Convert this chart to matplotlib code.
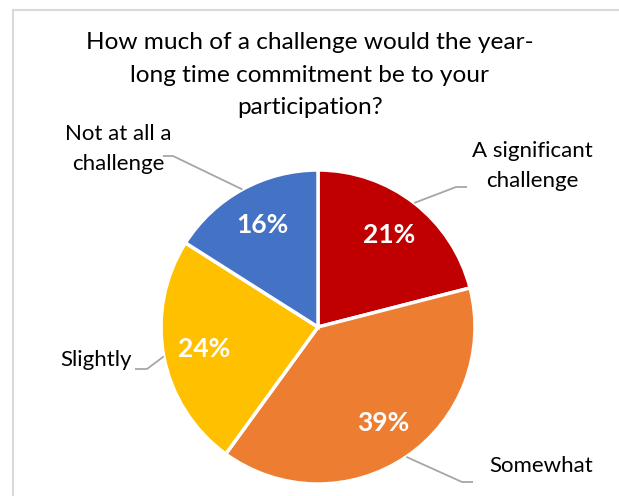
import numpy as np
import matplotlib.pyplot as plt
from matplotlib.lines import Line2D

plt.rcParams['font.family'] = ['Lato', 'DejaVu Sans']

title = "How much of a challenge would the year-\nlong time commitment be to your\nparticipation?"
categories = ["A significant\nchallenge", "Somewhat", "Slightly", "Not at all a\nchallenge"]
shares = [21, 39, 24, 16]
colors = ["#C00000", "#ED7D31", "#FFC000", "#4472C4"]

# label placement (pixels, y measured from top): text centre, elbow, end of leader
label_pos = [(532, 166), (541, 466), (96, 360), (118, 149)]
elbow_pos = [(456, 187), (462, 482), (147, 369), (173, 156)]
line_end = [(467, 187), (473, 482), (135, 369), (163, 156)]

W, H = 619, 496
fig = plt.figure(figsize=(W / 100, H / 100), dpi=100)
ax = fig.add_axes([0, 0, 1, 1])
ax.set_xlim(0, W)
ax.set_ylim(0, H)
ax.set_aspect('equal')
ax.axis('off')

cx, cy, r = 318, H - 327, 157

wedges, texts, autotexts = ax.pie(
    shares, colors=colors, startangle=90, counterclock=False,
    center=(cx, cy), radius=r, autopct='%1.0f%%', pctdistance=0.74,
    wedgeprops=dict(edgecolor='white', linewidth=2.5),
    textprops=dict(color='white', fontsize=19, fontweight='bold'))
ax.set_xlim(0, W)
ax.set_ylim(0, H)

# leader lines start on the rim at each wedge's middle angle
for w, cat, tp, ep, le in zip(wedges, categories, label_pos, elbow_pos, line_end):
    mid = np.deg2rad((w.theta1 + w.theta2) / 2)
    sx, sy = cx + r * np.cos(mid), cy + r * np.sin(mid)
    ax.plot([sx, ep[0], le[0]], [sy, H - ep[1], H - le[1]],
            color='#A6A6A6', linewidth=1.3, solid_capstyle='butt')
    ax.text(tp[0], H - tp[1], cat, ha='center', va='center', fontsize=16,
            color='black', linespacing=1.6)

ax.text(310, H - 75, title, ha='center', va='center', fontsize=17.6,
        color='black', linespacing=1.65)

# light chart-area border
fig.add_artist(Line2D([13 / W, 1], [1 - 10 / H, 1 - 10 / H], color='#D9D9D9', linewidth=1.5))
fig.add_artist(Line2D([13 / W, 13 / W], [0, 1 - 10 / H], color='#D9D9D9', linewidth=1.5))

fig.savefig('out.png', dpi=100, facecolor='white')
